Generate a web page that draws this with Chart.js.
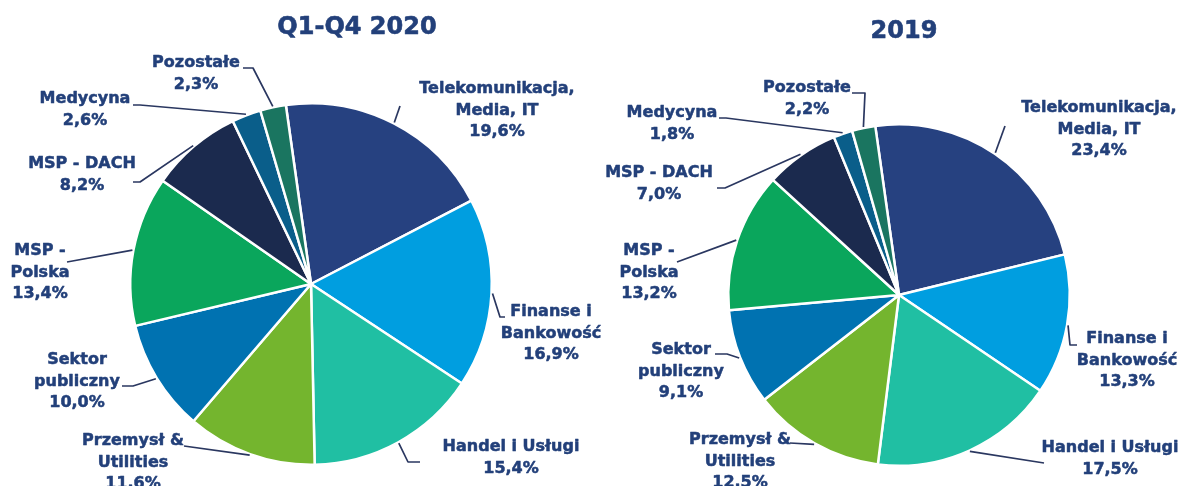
<!DOCTYPE html>
<html>
<head>
<meta charset="utf-8">
<script src="https://cdn.jsdelivr.net/npm/chart.js@4.4.0/dist/chart.umd.min.js"></script>
<style>
  html, body { margin: 0; padding: 0; background: #ffffff; }
  #wrap { position: relative; width: 1182px; height: 486px; overflow: hidden; }
  #wrap canvas { position: absolute; left: 0; top: 0; }
</style>
</head>
<body>
<div id="wrap">
  <canvas id="wykres2020" width="1182" height="486"></canvas>
  <canvas id="wykres2019" width="1182" height="486"></canvas>
</div>
<script>
// dane
const kategorie = [
  ['Telekomunikacja,', 'Media, IT'],
  ['Finanse i', 'Bankowość'],
  ['Handel i Usługi'],
  ['Przemysł &', 'Utilities'],
  ['Sektor', 'publiczny'],
  ['MSP -', 'Polska'],
  ['MSP - DACH'],
  ['Medycyna'],
  ['Pozostałe']
];
const wartosci2020 = [19.6, 16.9, 15.4, 11.6, 10.0, 13.4, 8.2, 2.6, 2.3];
const wartosci2019 = [23.4, 13.3, 17.5, 12.5, 9.1, 13.2, 7.0, 1.8, 2.2];
const tytul2020 = 'Q1-Q4 2020';
const tytul2019 = '2019';

const kolory = ['#264180', '#009ee0', '#20bfa3', '#74b52e', '#0072b1', '#0aa65c', '#1b2a4e', '#0a5e8a', '#1a7560'];
const kolorTekstu = '#23407a';
const kolorLinii = '#2a3760';

// rozmieszczenie etykiet: [srodek x, y pierwszej linii, punkty linii od wykresu do etykiety]
const etykiety2020 = [
  [497, 89,  [[400, 106]]],
  [551, 312, [[500, 317], [505, 317]]],
  [511, 447, [[408, 462], [420, 462]]],
  [133, 441, [[184, 446]]],
  [77,  360, [[133, 386], [122, 386]]],
  [40,  251, [[67, 262]]],
  [82,  164, [[140, 182], [133, 182]]],
  [85,  99,  [[140, 105], [133, 105]]],
  [196, 63,  [[253, 68], [243, 68]]]
];
const etykiety2019 = [
  [1099, 108, [[1005, 126]]],
  [1127, 339, [[1070, 345], [1077, 345]]],
  [1110, 448, [[1044, 463]]],
  [740,  440, [[790, 443]]],
  [681,  350, [[727, 354], [715, 354]]],
  [649,  251, [[677, 262]]],
  [659,  173, [[725, 188], [717, 188]]],
  [672,  113, [[726, 118], [719, 118]]],
  [807,  88,  [[865, 93], [852, 93]]]
];

function formatuj(v) {
  return v.toFixed(1).replace('.', ',') + '%';
}

// wtyczka rysujaca tytul, etykiety i linie odniesienia
const opisy = {
  id: 'opisy',
  afterDatasetsDraw(chart, args, opts) {
    const ctx = chart.ctx;
    const luki = chart.getDatasetMeta(0).data;
    const wartosci = chart.data.datasets[0].data;
    ctx.save();
    ctx.fillStyle = kolorTekstu;
    ctx.strokeStyle = kolorTekstu;
    ctx.lineJoin = 'round';
    ctx.textAlign = 'center';
    ctx.textBaseline = 'middle';
    ctx.font = 'bold 24px "DejaVu Sans"';
    ctx.lineWidth = 0.6;
    ctx.fillText(opts.tytul, opts.tytulX, opts.tytulY);
    ctx.strokeText(opts.tytul, opts.tytulX, opts.tytulY);

    ctx.font = 'bold 16px "DejaVu Sans"';
    luki.forEach((luk, i) => {
      const [x, y, punkty] = opts.etykiety[i];
      const linie = kategorie[i].concat([formatuj(wartosci[i])]);
      ctx.strokeStyle = kolorTekstu;
      ctx.lineWidth = 0.5;
      linie.forEach((t, j) => {
        ctx.fillText(t, x, y + j * 21.5);
        ctx.strokeText(t, x, y + j * 21.5);
      });

      // punkt na krawedzi wycinka, w polowie kata
      const p = luk.getProps(['x', 'y', 'startAngle', 'endAngle', 'outerRadius'], true);
      const kat = (p.startAngle + p.endAngle) / 2;
      const ex = p.x + Math.cos(kat) * (p.outerRadius + 1);
      const ey = p.y + Math.sin(kat) * (p.outerRadius + 1);
      ctx.beginPath();
      ctx.strokeStyle = kolorLinii;
      ctx.lineWidth = 1.7;
      ctx.moveTo(ex, ey);
      punkty.forEach(pt => ctx.lineTo(pt[0], pt[1]));
      ctx.stroke();
    });
    ctx.restore();
  }
};

function zrobWykres(id, wartosci, padding, tytul, tytulX, tytulY, etykiety) {
  return new Chart(document.getElementById(id), {
    type: 'pie',
    data: {
      labels: kategorie.map(k => k.join(' ')),
      datasets: [{
        data: wartosci,
        backgroundColor: kolory,
        borderColor: '#ffffff',
        borderWidth: 2.5
      }]
    },
    options: {
      responsive: false,
      animation: false,
      rotation: -8,
      layout: { padding: padding },
      events: [],
      plugins: {
        legend: { display: false },
        tooltip: { enabled: false },
        opisy: { tytul: tytul, tytulX: tytulX, tytulY: tytulY, etykiety: etykiety }
      }
    },
    plugins: [opisy]
  });
}

zrobWykres('wykres2020', wartosci2020, { left: 129, right: 689, top: 102, bottom: 20 }, tytul2020, 357, 28, etykiety2020);
zrobWykres('wykres2019', wartosci2019, { left: 727, right: 111, top: 123, bottom: 19 }, tytul2019, 904, 32, etykiety2019);
</script>
</body>
</html>
